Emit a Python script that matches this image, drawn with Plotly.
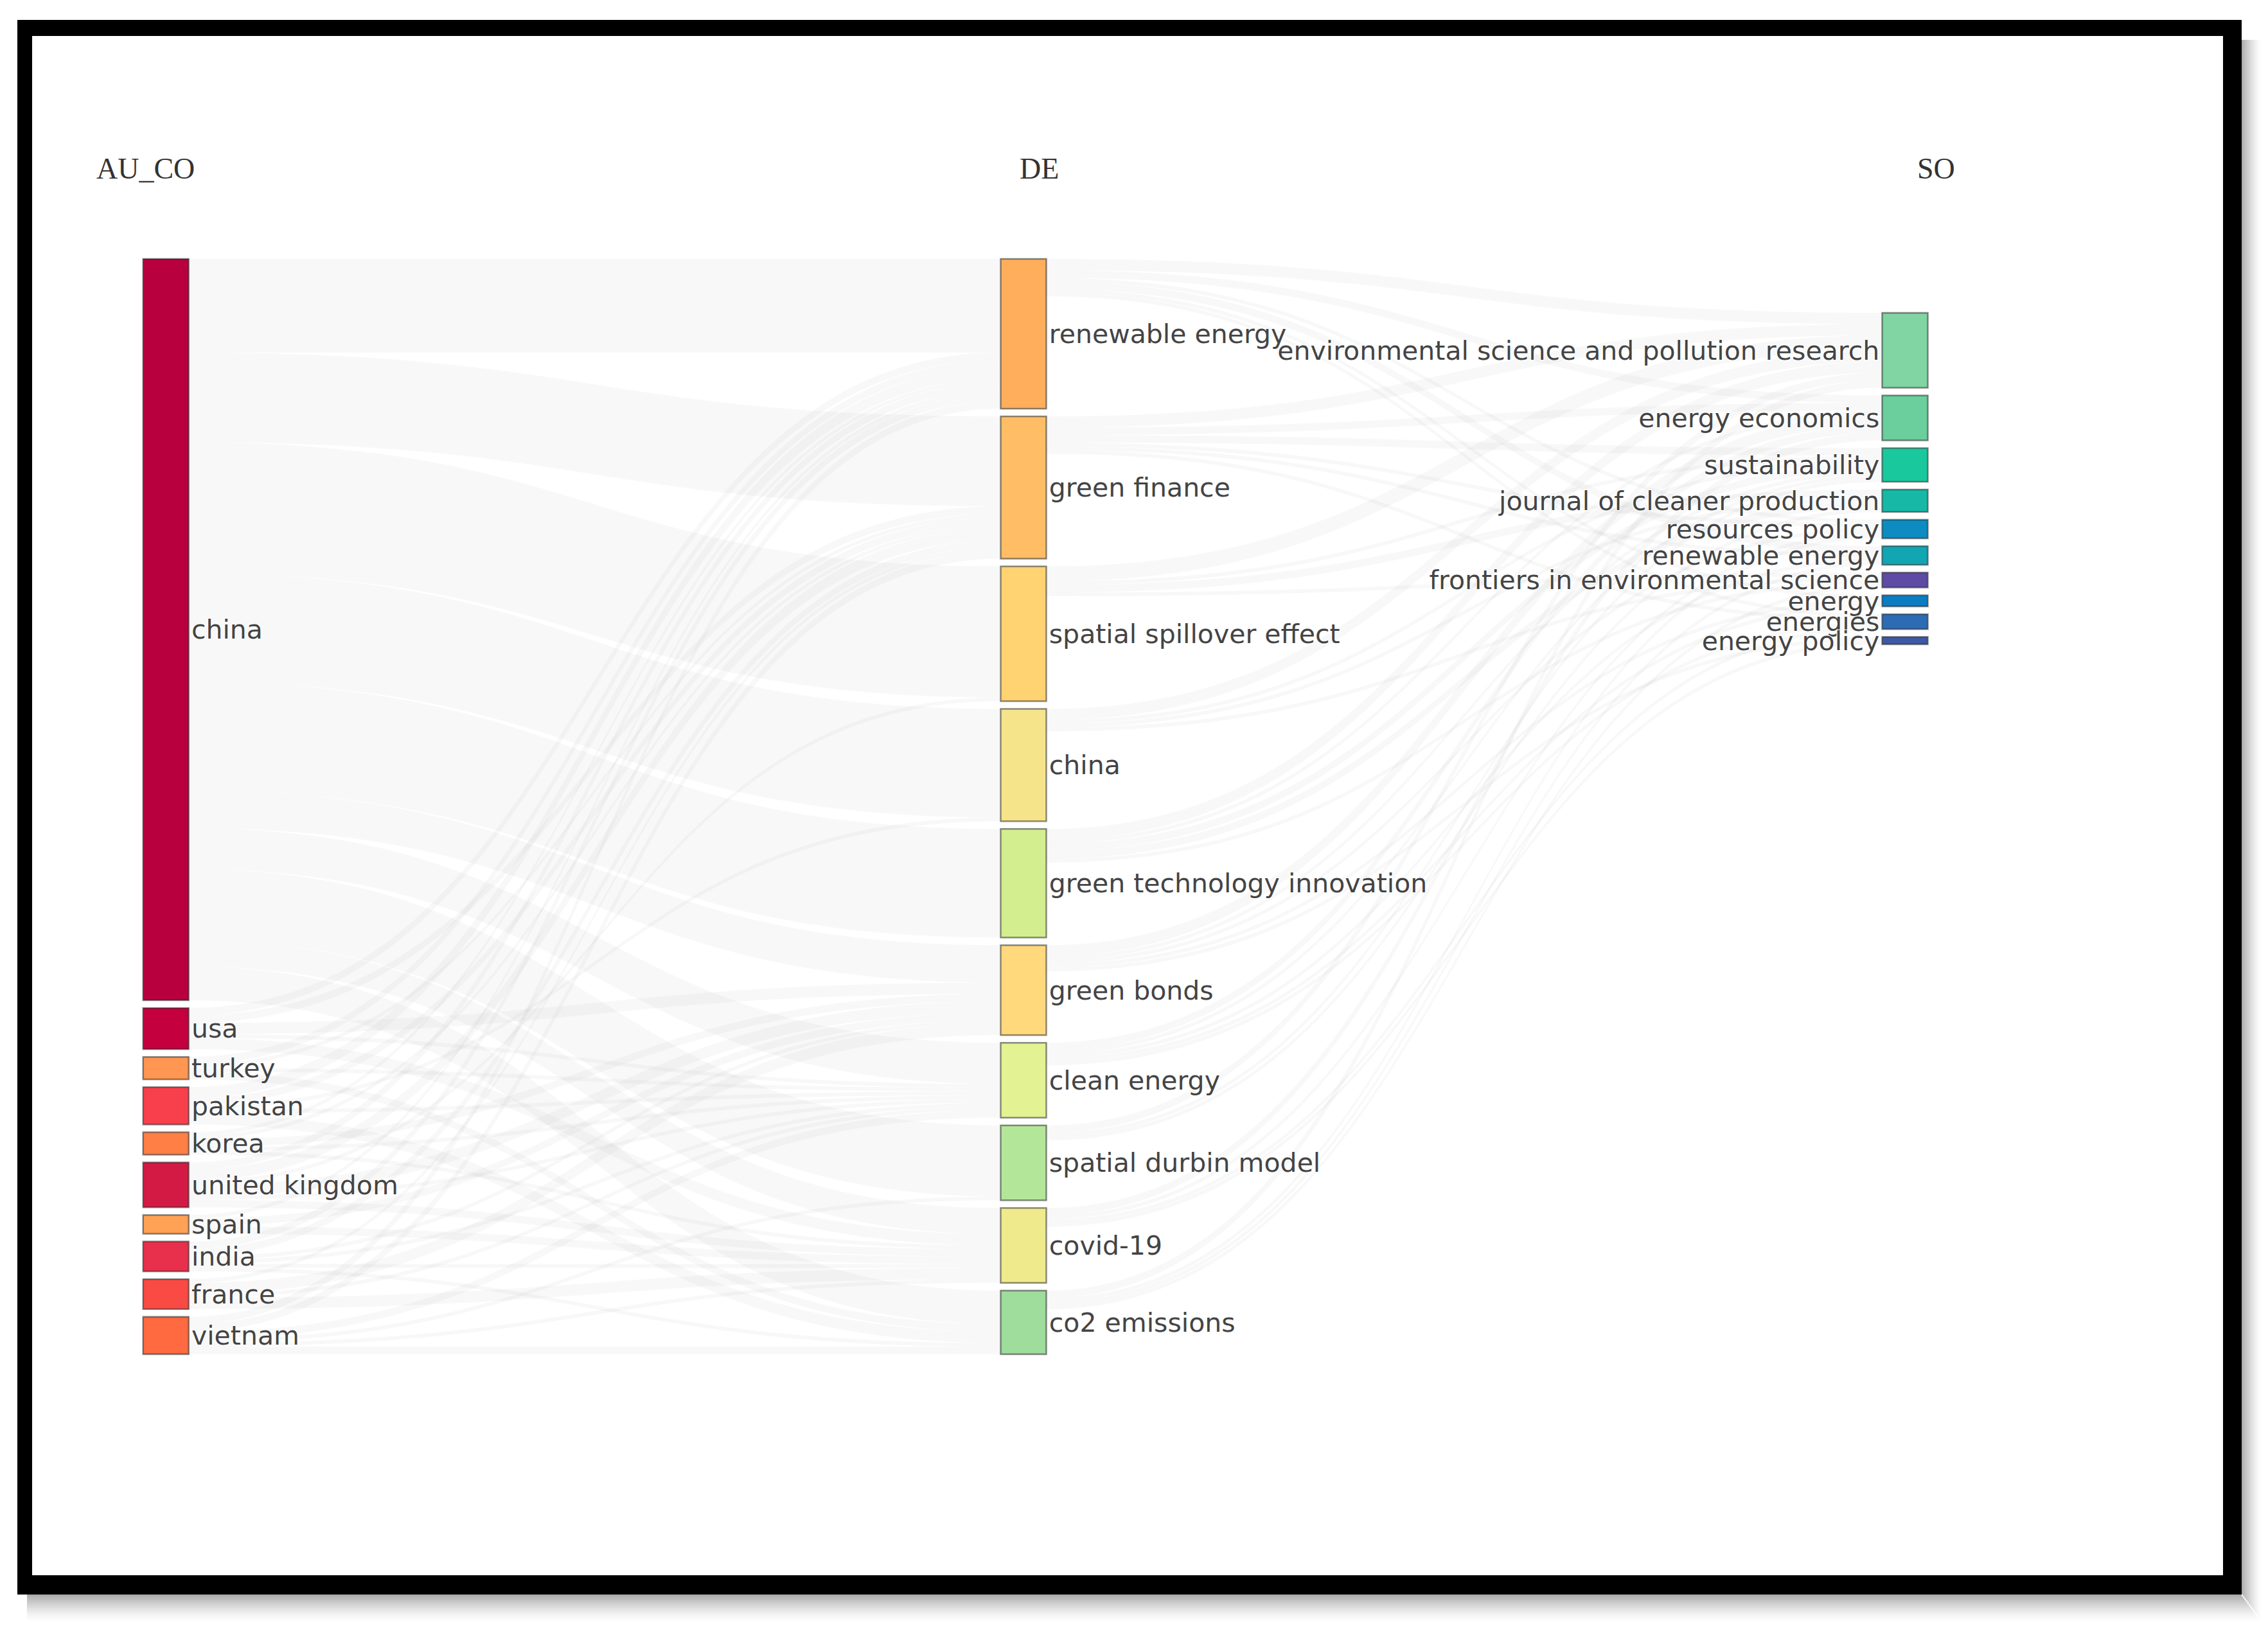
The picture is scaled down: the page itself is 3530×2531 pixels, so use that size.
import plotly.graph_objects as go

# ---------------- data ----------------
COUNTRIES = ["china", "usa", "turkey", "pakistan", "korea", "united kingdom",
             "spain", "india", "france", "vietnam"]
KEYWORDS = ["renewable energy", "green finance", "spatial spillover effect", "china",
            "green technology innovation", "green bonds", "clean energy",
            "spatial durbin model", "covid-19", "co2 emissions"]
JOURNALS = ["environmental science and pollution research", "energy economics",
            "sustainability", "journal of cleaner production", "resources policy",
            "renewable energy", "frontiers in environmental science", "energy",
            "energies", "energy policy"]

# rows: countries, columns: keywords
COUNTRY_TO_KEYWORD = [
    [25, 24, 35, 29, 29, 10, 11, 19, 7, 9],   # china
    [2, 2, 0, 0, 0, 3, 1, 0, 3, 0],           # usa
    [2, 1, 0, 0, 0, 0, 1, 0, 0, 2],           # turkey
    [3, 2, 0, 1, 0, 0, 1, 0, 0, 3],           # pakistan
    [1, 1, 0, 0, 0, 2, 1, 0, 1, 0],           # korea
    [2, 3, 1, 0, 0, 3, 1, 0, 2, 0],           # united kingdom
    [1, 0, 0, 0, 0, 2, 0, 0, 2, 0],           # spain
    [2, 2, 0, 0, 0, 1, 1, 0, 1, 1],           # india
    [0, 1, 0, 0, 0, 3, 1, 0, 3, 0],           # france
    [2, 2, 0, 0, 0, 0, 2, 1, 1, 2],           # vietnam
]
# rows: keywords, columns: journals
KEYWORD_TO_JOURNAL = [
    [3, 2, 0, 0, 1, 2, 0, 1, 1, 0],   # renewable energy
    [3, 2, 2, 0, 1, 1, 0, 0, 1, 0],   # green finance
    [4, 0, 1, 2, 0, 0, 1, 0, 0, 0],   # spatial spillover effect
    [3, 0, 1, 1, 0, 0, 1, 0, 0, 0],   # china
    [3, 1, 2, 2, 0, 0, 1, 0, 0, 0],   # green technology innovation
    [0, 3, 1, 0, 1, 0, 0, 1, 0, 1],   # green bonds
    [0, 2, 1, 0, 0, 1, 0, 1, 1, 0],   # clean energy
    [2, 0, 1, 1, 0, 0, 0, 0, 0, 0],   # spatial durbin model
    [0, 2, 0, 0, 1, 0, 0, 0, 1, 1],   # covid-19
    [2, 0, 0, 0, 1, 1, 1, 0, 0, 0],   # co2 emissions
]
FIELD_TITLES = ["AU_CO", "DE", "SO"]

# ---------------- styles ----------------
COUNTRY_COLORS = ["#B8003F", "#C4003F", "#FF9651", "#F8404C", "#FF7F45",
                  "#D31A44", "#FFA256", "#E8304D", "#FA4A44", "#FF6A40"]
KEYWORD_COLORS = ["#FFAE5C", "#FFBE66", "#FFD272", "#F6E48A", "#D2EE8E",
                  "#FFD97C", "#E3F293", "#B4E69A", "#EFEA8C", "#9EDD9C"]
JOURNAL_COLORS = ["#80D5A2", "#6BCE9D", "#1AC89E", "#17B9A6", "#0C8CC0",
                  "#12A6B3", "#5E4BA6", "#0B7DC2", "#2D6CB4", "#3E5AA6"]

# page geometry (the html body has an 8px margin)
PAGE_W, PAGE_H, BODY = 3530, 2531, 8
W, H = PAGE_W - 2 * BODY, PAGE_H - 2 * BODY


def xf(px):
    return (px - BODY) / W


def yf(py):
    return 1 - (py - BODY) / H


DOM_LEFT, DOM_RIGHT = 222.7, 3001.0     # page px
DOM_TOP, DOM_BOTTOM = 403.0, 2108.0     # page px
THICK, PAD = 71, 12
COL_CENTER_PX = [35.5, 1370.3, 2742.3]  # relative to domain left
RIGHT_TOP_OFFSET = 84.0                 # px below domain top

Wd = DOM_RIGHT - DOM_LEFT
Hd = DOM_BOTTOM - DOM_TOP

nC, nK, nJ = len(COUNTRIES), len(KEYWORDS), len(JOURNALS)
labels = COUNTRIES + KEYWORDS + JOURNALS
colors = COUNTRY_COLORS + KEYWORD_COLORS + JOURNAL_COLORS

src, tgt, val = [], [], []
for i in range(nC):
    for j in range(nK):
        if COUNTRY_TO_KEYWORD[i][j] > 0:
            src.append(i); tgt.append(nC + j); val.append(COUNTRY_TO_KEYWORD[i][j])
for i in range(nK):
    for j in range(nJ):
        if KEYWORD_TO_JOURNAL[i][j] > 0:
            src.append(nC + i); tgt.append(nC + nK + j); val.append(KEYWORD_TO_JOURNAL[i][j])

# node sizes as plotly computes them (max of in/out flow)
c_tot = [sum(r) for r in COUNTRY_TO_KEYWORD]
k_in = [sum(COUNTRY_TO_KEYWORD[i][j] for i in range(nC)) for j in range(nK)]
k_out = [sum(r) for r in KEYWORD_TO_JOURNAL]
k_tot = [max(a, b) for a, b in zip(k_in, k_out)]
j_tot = [sum(KEYWORD_TO_JOURNAL[i][j] for i in range(nK)) for j in range(nJ)]
ky = min((Hd - (len(col) - 1) * PAD) / sum(col) for col in (c_tot, k_tot, j_tot))

# column placement; 'snap' packs each column in the given order
node_x, node_y = [], []
for i in range(nC):
    node_x.append(COL_CENTER_PX[0] / Wd); node_y.append(0.001 + 0.02 * i)
for i in range(nK):
    node_x.append(COL_CENTER_PX[1] / Wd); node_y.append(0.001 + 0.02 * i)
first_center = (RIGHT_TOP_OFFSET + j_tot[0] * ky / 2) / Hd
for i in range(nJ):
    node_x.append(COL_CENTER_PX[2] / Wd); node_y.append(first_center + 0.005 * i)

fig = go.Figure(go.Sankey(
    arrangement="snap",
    domain=dict(x=[xf(DOM_LEFT), xf(DOM_RIGHT)], y=[yf(DOM_BOTTOM), yf(DOM_TOP)]),
    node=dict(label=labels, color=colors, x=node_x, y=node_y,
              pad=PAD, thickness=THICK,
              line=dict(color="rgba(30,30,30,0.5)", width=2.5)),
    link=dict(source=src, target=tgt, value=val, color="rgba(190,190,190,0.11)"),
    textfont=dict(family="DejaVu Sans", size=41, color="#444"),
))

# column titles
title_x = [226, 1617, 3013]
for t, x in zip(FIELD_TITLES, title_x):
    fig.add_annotation(x=xf(x), y=yf(263), xref="paper", yref="paper",
                       text=t, showarrow=False, xanchor="center", yanchor="middle",
                       font=dict(family="Liberation Serif", size=46, color="#333"))

shapes = []


def rect(x0, y0, x1, y1, color):
    shapes.append(dict(type="rect", xref="paper", yref="paper",
                       x0=xf(x0), x1=xf(x1), y0=yf(y1), y1=yf(y0),
                       fillcolor=color, line=dict(width=0)))


# drop shadow
N = 14
for k in range(N):
    a = 0.32 * (1 - k / N) ** 1.5
    rect(3489 + k * 2.2, 62, 3489 + (k + 1) * 2.2, 2482 + k * 3.0, f"rgba(0,0,0,{a:.3f})")
    rect(42, 2482 + k * 3.0, 3489 + k * 2.2, 2482 + (k + 1) * 3.0, f"rgba(0,0,0,{a:.3f})")
# black frame
rect(27, 31, 3489, 56, "black")
rect(27, 2452, 3489, 2482, "black")
rect(27, 31, 50, 2482, "black")
rect(3460, 31, 3489, 2482, "black")

fig.update_layout(width=W, height=H, margin=dict(l=0, r=0, t=0, b=0),
                  paper_bgcolor="white", plot_bgcolor="white",
                  font=dict(family="DejaVu Sans", color="#444"),
                  shapes=shapes, showlegend=False)
fig.write_html("out.html", config={"displayModeBar": False})
